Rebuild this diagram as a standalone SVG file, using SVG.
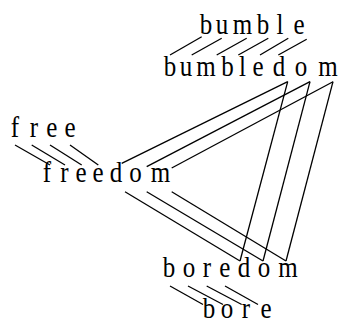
<svg xmlns="http://www.w3.org/2000/svg" width="343" height="322" viewBox="0 0 343 322">
<style>
text{font-family:"Liberation Serif","Times New Roman",serif;font-size:25px;fill:#000;text-anchor:middle}
.c line{stroke:#000;stroke-width:1.3;fill:none}
</style>
<rect width="343" height="322" fill="#fff"/>
<g id="connectors" class="c">
<line x1="201.7" y1="36.7" x2="170" y2="55"/>
<line x1="221.7" y1="38.3" x2="191.7" y2="55"/>
<line x1="246.7" y1="38.3" x2="216.7" y2="55"/>
<line x1="268.3" y1="38.3" x2="238.3" y2="55"/>
<line x1="288.3" y1="38.3" x2="260" y2="55"/>
<line x1="306.7" y1="39.3" x2="278.3" y2="55"/>
<line x1="15" y1="145" x2="50" y2="165"/>
<line x1="31.7" y1="145" x2="65" y2="165"/>
<line x1="50" y1="145" x2="81.7" y2="165"/>
<line x1="70" y1="145" x2="98.3" y2="165"/>
<line x1="287.7" y1="81.7" x2="121.7" y2="163.3"/>
<line x1="310" y1="81.7" x2="146.7" y2="166.7"/>
<line x1="333" y1="81.7" x2="171.7" y2="168"/>
<line x1="287.7" y1="81.7" x2="240" y2="261"/>
<line x1="310" y1="81.7" x2="263" y2="261"/>
<line x1="333" y1="81.7" x2="286" y2="261"/>
<line x1="125" y1="191.7" x2="240" y2="261"/>
<line x1="146.7" y1="191.7" x2="263" y2="261"/>
<line x1="171.7" y1="191.7" x2="286" y2="261"/>
<line x1="170" y1="286" x2="203" y2="304.5"/>
<line x1="188" y1="286" x2="223" y2="304.5"/>
<line x1="206.7" y1="286" x2="241.7" y2="304.5"/>
<line x1="225" y1="286" x2="258" y2="304.5"/>
</g>
<g id="bumble" transform="translate(0,34) scale(1,1.15)">
<text x="206" y="0">b</text><text x="222" y="0">u</text><text x="242.5" y="0">m</text><text x="263" y="0">b</text><text x="280" y="0">l</text><text x="299" y="0">e</text>
</g>
<g id="bumbledom" transform="translate(0,76) scale(1,1.15)">
<text x="170" y="0">b</text><text x="186" y="0">u</text><text x="206" y="0">m</text><text x="227.5" y="0">b</text><text x="242.5" y="0">l</text><text x="258" y="0">e</text><text x="279" y="0">d</text><text x="301" y="0">o</text><text x="328" y="0">m</text>
</g>
<g id="free" transform="translate(0,137) scale(1,1.15)">
<text x="15" y="0">f</text><text x="34" y="0">r</text><text x="51.7" y="0">e</text><text x="70" y="0">e</text>
</g>
<g id="freedom" transform="translate(0,181.7) scale(1,1.15)">
<text x="47" y="0">f</text><text x="64.5" y="0">r</text><text x="81" y="0">e</text><text x="98" y="0">e</text><text x="116" y="0">d</text><text x="135.5" y="0">o</text><text x="160.5" y="0">m</text>
</g>
<g id="boredom" transform="translate(0,276.7) scale(1,1.15)">
<text x="169" y="0">b</text><text x="189" y="0">o</text><text x="207" y="0">r</text><text x="224.7" y="0">e</text><text x="244" y="0">d</text><text x="264" y="0">o</text><text x="288" y="0">m</text>
</g>
<g id="bore" transform="translate(0,317.5) scale(1,1.15)">
<text x="209" y="0">b</text><text x="227" y="0">o</text><text x="246" y="0">r</text><text x="266" y="0">e</text>
</g>
</svg>
